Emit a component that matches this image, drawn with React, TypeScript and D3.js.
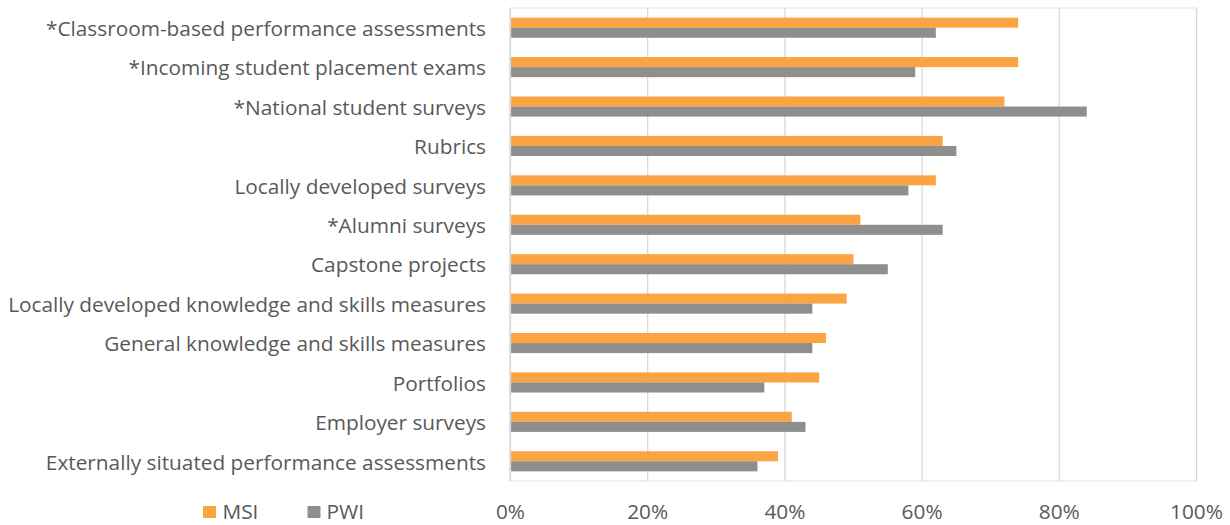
import React from "react";
import * as d3 from "d3";

const categories = [
  "*Classroom-based performance assessments",
  "*Incoming student placement exams",
  "*National student surveys",
  "Rubrics",
  "Locally developed surveys",
  "*Alumni surveys",
  "Capstone projects",
  "Locally developed knowledge and skills measures",
  "General knowledge and skills measures",
  "Portfolios",
  "Employer surveys",
  "Externally situated performance assessments",
];
const msi = [74, 74, 72, 63, 62, 51, 50, 49, 46, 45, 41, 39];
const pwi = [62, 59, 84, 65, 58, 63, 55, 44, 44, 37, 43, 36];
const ticks = [0, 20, 40, 60, 80, 100];
const seriesNames = ["MSI", "PWI"];
const colors = ["#FBA443", "#8E8E8E"];

export default function App() {
  const W = 1230, H = 525;
  const left = 510.5, right = 1196.5, top = 8, bottom = 481;
  const x = d3.scaleLinear().domain([0, 100]).range([left, right]);
  const y = d3.scaleBand().domain(categories).range([top, bottom]).paddingInner(0.49).paddingOuter(0.245);
  const bw = y.bandwidth() / 2;
  const font = "'Open Sans', sans-serif";
  const fs = 20.8;
  const textColor = "#595959";
  return (
    <svg width={W} height={H} style={{ position: "absolute", left: 0, top: 0 }}>
      <rect x={0} y={0} width={W} height={H} fill="#fff" />
      <rect x={left - 1} y={top} width={right - left + 1} height={bottom - top} fill="none" stroke="#DCE6F2" strokeWidth={1} />
      {ticks.slice(1).map((t) => (
        <line key={t} x1={x(t)} x2={x(t)} y1={top} y2={bottom} stroke="#D9D9D9" strokeWidth={1.3} />
      ))}
      {categories.map((c, i) => (
        <g key={c}>
          <rect x={x(0)} y={y(c)!} width={x(msi[i]) - x(0)} height={bw} fill={colors[0]} />
          <rect x={x(0)} y={y(c)! + bw} width={x(pwi[i]) - x(0)} height={bw} fill={colors[1]} />
          <text x={486} y={y(c)! + bw + 1} dy="0.35em" textAnchor="end" fontFamily={font} fontSize={fs} fill={textColor}>{c}</text>
        </g>
      ))}
      <line x1={x(0)} x2={x(0)} y1={top} y2={bottom} stroke="#D9D9D9" strokeWidth={1.3} />
      {ticks.map((t) => (
        <text key={t} x={x(t)} y={512} dy="0.35em" textAnchor="middle" fontFamily={font} fontSize={fs} fill={textColor}>{t}%</text>
      ))}
      {seriesNames.map((s, i) => (
        <g key={s}>
          <rect x={203 + i * 104.5} y={506} width={13} height={12} fill={colors[i]} />
          <text x={222.5 + i * 104} y={512} dy="0.35em" fontFamily={font} fontSize={fs} fill={textColor}>{s}</text>
        </g>
      ))}
    </svg>
  );
}
